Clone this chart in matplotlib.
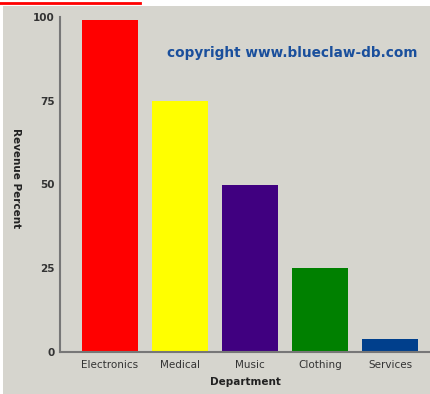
import matplotlib
matplotlib.use("Agg")

import matplotlib.pyplot as plt
from matplotlib.patches import Rectangle
from matplotlib.lines import Line2D

departments = ["Electronics", "Medical", "Music", "Clothing", "Services"]
revenue = [99, 75, 50, 25, 4]
bar_colors = ["#ff0000", "#ffff00", "#400080", "#008000", "#003f8c"]
y_ticks = [0, 25, 50, 75, 100]

bg = "#d6d5ce"

fig = plt.figure(figsize=(4.31, 3.94), dpi=100)
fig.patch.set_facecolor("white")

# gray panel and the red line above it
fig.patches.append(Rectangle((3 / 431, 0), 1, 388 / 394, transform=fig.transFigure,
                             facecolor=bg, edgecolor="none", zorder=-10))
fig.lines.append(Line2D([0, 140 / 431], [391 / 394, 391 / 394], transform=fig.transFigure,
                        color="#ff0000", linewidth=2, zorder=-5))

ax = fig.add_axes([60 / 431, 42 / 394, 371 / 431, 335 / 394])
ax.set_facecolor(bg)

x = range(len(departments))
ax.bar(x, revenue, width=0.8, color=bar_colors)

ax.set_xlim(-0.714, 4.586)
ax.set_ylim(0, 100)
ax.set_yticks(y_ticks)
ax.set_yticklabels([str(t) for t in y_ticks], fontsize=7.5, fontweight="bold", color="#333333")
ax.set_xticks(list(x))
ax.set_xticklabels(departments, fontsize=7.5, color="#333333")
ax.tick_params(axis="both", length=0)
ax.tick_params(axis="y", pad=4)
ax.tick_params(axis="x", pad=6)

for side in ["top", "right"]:
    ax.spines[side].set_visible(False)
for side in ["left", "bottom"]:
    ax.spines[side].set_color("#777777")
    ax.spines[side].set_linewidth(1.5)

ax.set_xlabel("Department", fontsize=7.5, fontweight="bold", color="#222222", labelpad=5)
fig.text(16 / 431, 1 - 178 / 394, "Revenue Percent", rotation=270, fontsize=7.5,
         fontweight="bold", color="#222222", ha="center", va="center")

fig.text(292 / 431, 1 - 53 / 394, "copyright www.blueclaw-db.com", fontsize=9.8,
         fontweight="bold", color="#1a4f9c", ha="center", va="center")

fig.savefig("out.png", dpi=100)
